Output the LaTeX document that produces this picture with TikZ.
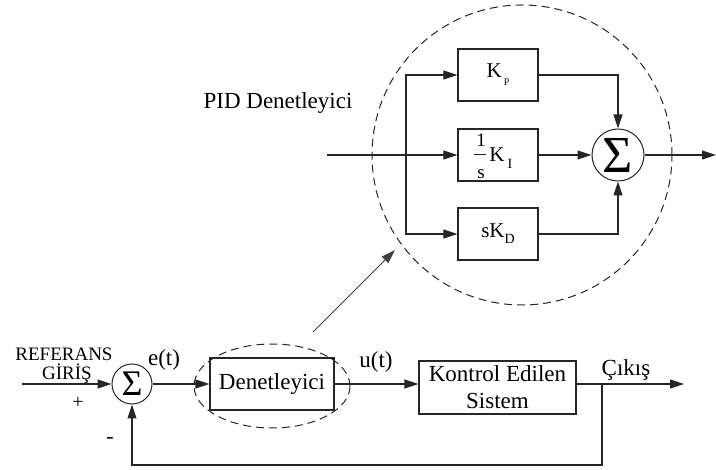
\documentclass[tikz,border=0pt]{standalone}
\usepackage{fontspec}
\setmainfont{Liberation Serif}
\usetikzlibrary{arrows.meta,shapes.geometric}
\newcommand{\fs}[1]{\fontsize{#1}{#1}\selectfont}
\begin{document}
\begin{tikzpicture}[x=1pt,y=-1pt,
  line width=1.1pt, draw=black!85,
  arr/.style={-{Triangle[length=14pt,width=9pt]}},
  blk/.style={draw, line width=1.3pt, minimum width=80pt, minimum height=52pt, inner sep=0pt, font=\fs{21}},
  sumnode/.style={draw, circle, line width=1pt, inner sep=0pt},
  dsh/.style={draw, dash pattern=on 8pt off 5pt, line width=1pt},
  lbl/.style={inner sep=0pt, font=\fs{23}},
  small/.style={inner sep=0pt, font=\fs{19}}
]
\useasboundingbox (0,0) rectangle (716,470);

% ---------- PID controller detail ----------
\node[dsh, circle, minimum size=300pt, inner sep=0pt] (pidring) at (522,155) {};
\node[lbl] (pidlbl) at (278,103) {PID Denetleyici};

\node[blk] (kp) at (498,75) {K\hspace{2pt}\raisebox{-8pt}{\fs{10}P}};
\node[blk] (ki) at (498,155) {};
\node[blk] (kd) at (498,234) {sK\raisebox{-6pt}{\fs{14}D}};

% 1/s K_I inside the middle block
\node[inner sep=0pt, font=\fs{19}] (kinum) at (481,140) {1};
\node[inner sep=0pt, font=\fs{19}] (kiden) at (481,174) {s};
\draw[line width=1pt] (kinum.south west |- ki) ++(-2,0) coordinate (barl) -- ++(12,0) coordinate (barr);
\node[inner sep=0pt, font=\fs{21}] (kik) at (497,155) {K};
\node[inner sep=0pt, font=\fs{14}] (kii) at (510,164) {I};

\node[sumnode, minimum size=52pt] (sig) at (618,155) {\fs{52}Σ};

\coordinate (pidin) at (327,155);
\coordinate (split) at (406,155);
\coordinate (pidout) at (716,155);

\draw[arr] (pidin) -- (ki);
\draw[arr] (split) |- (kp.west);
\draw[arr] (split) |- (kd.west);
\draw[arr] (kp.east) -| (sig.north);
\draw[arr] (kd.east) -| (sig.south);
\draw[arr] (ki) -- (sig);
\draw[arr] (sig) -- (pidout);

% pointer from the controller block to its detail
\coordinate (ptrstart) at (313,332);
\coordinate (ptrend) at (395,250);
\draw[arr, line width=0.9pt, draw=black!75] (ptrstart) -- (ptrend);

% ---------- closed loop ----------
\coordinate (refin) at (22,384);
\node[small] (reflbl) at (64,354) {REFERANS};
\node[small] (girislbl) at (67,374) {GİRİŞ};
\node[inner sep=0pt, font=\fs{20}] (plus) at (78,403) {+};
\node[inner sep=0pt, font=\fs{22}] (minus) at (110,440) {-};

\node[sumnode, minimum size=40pt] (s1) at (132,384) {\fs{36}Σ};
\node[lbl] (etlbl) at (164,360) {e(t)};

\node[blk, minimum width=124pt, font=\fs{23}] (den) at (272,384) {Denetleyici};
\node[dsh, ellipse, minimum width=156pt, minimum height=84pt, inner sep=0pt] (denring) at (272,386) {};
\node[lbl] (utlbl) at (376,362) {u(t)};

\node[blk, minimum width=157pt, minimum height=53pt, align=center, font={\fontsize{23}{27}\selectfont}] (plant) at (497.5,387.5)
  {Kontrol Edilen\\Sistem};
\node[lbl] (cikis) at (626,370) {Çıkış};

\coordinate (tap) at (602,384);
\coordinate (outend) at (684,384);
\coordinate (fb) at (602,465);

\draw[arr] (refin) -- (s1);
\draw[arr] (s1) -- (den);
\draw[arr] (den.east) -- (den.east -| plant.west);
\draw[arr] (plant.east |- tap) -- (outend);
\draw[arr] (tap) -- (fb) -| (s1.south);
\end{tikzpicture}
\end{document}
